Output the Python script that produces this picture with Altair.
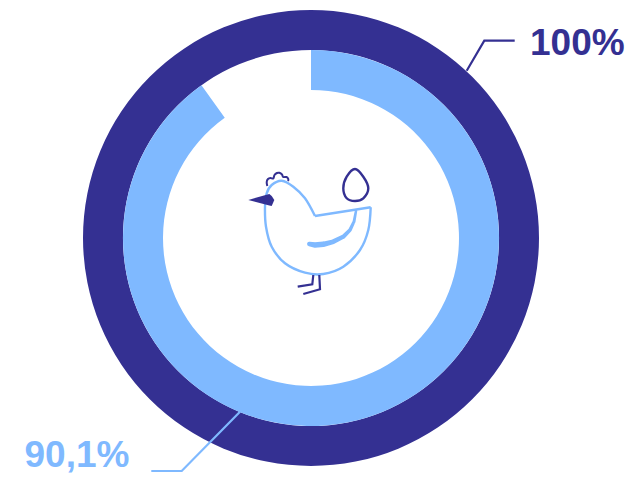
import math
import altair as alt
import pandas as pd

DARK = "#343092"
LIGHT = "#7FB9FF"
W, H = 617, 466

ring_names = ["Total", "Share"]
ring_values = [100, 90.1]
label_texts = ["100%", "90,1%"]

# Icon and leader geometry in page pixels
hen_back_x = [370.7, 315]
hen_back_y = [207.3, 216]
hen_body_x = [315, 305, 293.3, 281.7, 271.7, 266.7, 265, 266, 271.7, 285, 305, 323.3, 343.3, 360, 368.3, 370.7]
hen_body_y = [216, 198.3, 186.7, 180.7, 185, 193.3, 206.7, 226.7, 246.7, 263.3, 272.7, 274, 266.7, 250, 230, 207.3]
wing_x = [356, 354, 350, 343.3, 333.3, 323.3, 315, 309.3]
wing_y = [211, 221.7, 230, 236.7, 241.7, 244.3, 245, 244]
wing_w = [2.5, 3, 3.6, 4.2, 4.8, 5.4, 5.6, 4.5]
comb_x = [267.3, 266.7, 268, 270.5, 273.3, 274.5, 277, 279.3, 282, 283.2, 286.5, 288.3, 288]
comb_y = [186, 182, 179, 178, 178.5, 175, 173, 172.8, 174.5, 177, 177, 179, 181]
egg_x = [355, 363.3, 368.3, 363.3, 355, 346.7, 343.3, 346.7]
egg_y = [169, 176.7, 188.3, 198.3, 201, 198.3, 188.3, 176.7]
leg1_x = [313.3, 312.3, 297.7]
leg1_y = [275, 284.3, 286.7]
leg2_x = [319.3, 320, 303.3]
leg2_y = [275, 289.3, 294]
beak_x = [248.3, 269.3, 271.7, 274.3]
beak_top = [200, 194, 196, 200]
beak_bot = [200, 205.5, 206, 200]
lead_dark_x = [466.7, 484.3, 514.7]
lead_dark_y = [70.7, 40.7, 40.7]
lead_light_x = [240, 181.7, 151.3]
lead_light_y = [411.7, 471, 471]

xs = alt.Scale(domain=[8, 8 + W], range=[0, W])
ys = alt.Scale(domain=[8, 8 + H], range=[0, H])


def ring(value, color, outer, inner):
    df = pd.DataFrame({"start": [0], "end": [value]})
    return alt.Chart(df).mark_arc(radius=outer, radius2=inner, color=color).encode(
        theta=alt.Theta("start:Q", stack=None,
                        scale=alt.Scale(domain=[0, 100], range=[0, 2 * math.pi])),
        theta2="end:Q",
        x=alt.value(303),
        y=alt.value(230),
    )


def line(lx, ly, color, width=2, interp="linear"):
    df = pd.DataFrame({"x": lx, "y": ly, "i": range(len(lx))})
    return alt.Chart(df).mark_line(color=color, strokeWidth=width, interpolate=interp,
                                   strokeJoin="miter", strokeCap="butt").encode(
        x=alt.X("x:Q", scale=xs, axis=None),
        y=alt.Y("y:Q", scale=ys, axis=None),
        order="i:Q",
    )


wing = alt.Chart(pd.DataFrame({"x": wing_x, "y": wing_y, "w": wing_w, "i": range(len(wing_x))})).mark_trail(color=LIGHT).encode(
    x=alt.X("x:Q", scale=xs, axis=None),
    y=alt.Y("y:Q", scale=ys, axis=None),
    size=alt.Size("w:Q", scale=None, legend=None),
    order="i:Q",
)

beak = alt.Chart(pd.DataFrame({"x": beak_x, "t": beak_top, "b": beak_bot})).mark_area(color=DARK).encode(
    x=alt.X("x:Q", scale=xs, axis=None),
    y=alt.Y("t:Q", scale=ys, axis=None),
    y2="b:Q",
)


def label(text, color, px, py):
    return alt.Chart(pd.DataFrame({"t": [text]})).mark_text(
        font="Liberation Sans", fontWeight="bold", fontSize=37, color=color,
        align="left", baseline="alphabetic",
    ).encode(text="t:N", x=alt.value(px), y=alt.value(py))


chart = alt.layer(
    ring(ring_values[0], DARK, 228, 188),
    ring(ring_values[1], LIGHT, 188, 148),
    line(lead_dark_x, lead_dark_y, DARK, 2.2),
    line(lead_light_x, lead_light_y, LIGHT, 2.2),
    line(hen_back_x, hen_back_y, LIGHT, 2.4),
    line(hen_body_x, hen_body_y, LIGHT, 2.4, "cardinal"),
    wing,
    line(comb_x, comb_y, DARK, 2, "cardinal"),
    line(egg_x, egg_y, DARK, 2.4, "cardinal-closed"),
    line(leg1_x, leg1_y, DARK, 2.2),
    line(leg2_x, leg2_y, DARK, 2.2),
    beak,
    label(label_texts[0], DARK, 522, 47),
    label(label_texts[1], LIGHT, 16.5, 459),
).properties(
    width=W, height=H, padding=0,
    autosize=alt.AutoSizeParams(type="none"),
).configure_view(stroke=None)

chart.save("out.html", embed_options={"renderer": "svg", "actions": False})
